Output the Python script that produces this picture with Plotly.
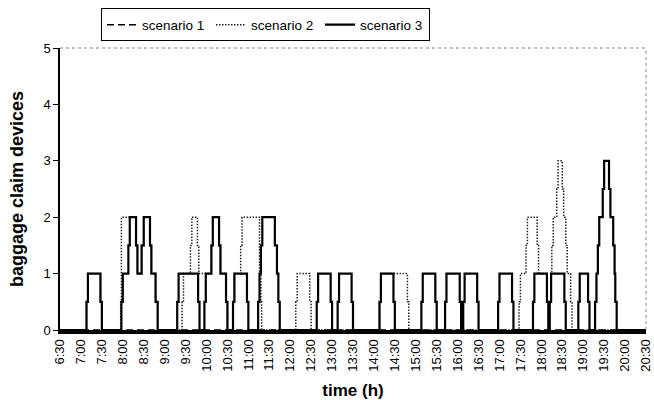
import plotly.graph_objects as go

# ---------------- data ----------------
DAY = "2000-01-01 "

X_TICK_LABELS = ["6:30", "7:00", "7:30", "8:00", "8:30", "9:00", "9:30", "10:00",
                 "10:30", "11:00", "11:30", "12:00", "12:30", "13:00", "13:30",
                 "14:00", "14:30", "15:00", "15:30", "16:00", "16:30", "17:00",
                 "17:30", "18:00", "18:30", "19:00", "19:30", "20:00", "20:30"]

# scenario 1: stays at zero over the whole day
S1_TIMES = ["06:30", "20:30"]
S1_VALUES = [0, 0]

# scenario 2 (dotted) step breakpoints: value holds until next time
S2_TIMES = ["06:30", "07:08", "07:10", "07:28", "07:30",
            "07:57", "07:58", "08:19", "08:21", "08:27", "08:30", "08:39", "08:41", "08:47", "08:50",
            "09:25", "09:27", "09:37", "09:39", "09:47", "09:49",
            "10:07", "10:09", "10:18", "10:20", "10:28", "10:30",
            "10:38", "10:40", "10:49", "10:51", "11:16", "11:18", "11:19",
            "12:08", "12:10", "12:28", "12:30",
            "14:08", "14:10", "14:48", "14:50",
            "17:28", "17:30", "17:38", "17:40", "17:54", "17:56", "18:08", "18:10",
            "18:12", "18:14", "18:15", "18:17", "18:22", "18:24", "18:30", "18:32",
            "18:35", "18:37", "18:42", "18:44", "20:30"]
S2_VALUES = [0, 0.5, 1, 0.5, 0,
             0.5, 2, 1.5, 1, 1.5, 2, 1.5, 1, 0.5, 0,
             0.5, 1, 1.5, 2, 1.5, 1,
             1.5, 2, 1.5, 1, 0.5, 0,
             0.5, 1, 1.5, 2, 1, 0.5, 0,
             0.5, 1, 0.5, 0,
             0.5, 1, 0.5, 0,
             0.5, 1, 1.5, 2, 1.5, 1, 0.5, 0,
             0.5, 1, 1.5, 2, 2.5, 3, 2.5, 2,
             1.5, 1, 0.5, 0, 0]

# scenario 3 (solid) step breakpoints
S3_TIMES = ["06:30", "07:08", "07:10", "07:28", "07:30",
            "07:58", "08:00", "08:08", "08:10", "08:19", "08:21", "08:27", "08:30",
            "08:39", "08:41", "08:47", "08:50",
            "09:18", "09:20", "09:48", "09:50",
            "09:57", "09:59", "10:07", "10:09", "10:18", "10:20", "10:28", "10:30",
            "10:38", "10:40", "10:58", "11:00",
            "11:14", "11:16", "11:18", "11:20", "11:38", "11:41", "11:43", "11:45",
            "12:38", "12:40", "12:58", "13:00",
            "13:08", "13:10", "13:28", "13:30",
            "14:08", "14:10", "14:28", "14:30",
            "15:08", "15:10", "15:28", "15:30",
            "15:42", "15:44", "16:03", "16:05",
            "16:08", "16:10", "16:28", "16:30",
            "16:58", "17:00", "17:18", "17:20",
            "17:48", "17:50", "18:08", "18:10",
            "18:12", "18:14", "18:33", "18:35",
            "18:53", "18:55", "19:07", "19:09",
            "19:17", "19:19", "19:21", "19:23", "19:28", "19:30", "19:37", "19:39",
            "19:43", "19:45", "19:46", "19:48", "20:30"]
S3_VALUES = [0, 0.5, 1, 0.5, 0,
             0.5, 1, 1.5, 2, 1.5, 1, 1.5, 2,
             1.5, 1, 0.5, 0,
             0.5, 1, 0.5, 0,
             0.5, 1, 1.5, 2, 1.5, 1, 0.5, 0,
             0.5, 1, 0.5, 0,
             0.5, 1, 1.5, 2, 1.5, 1, 0.5, 0,
             0.5, 1, 0.5, 0,
             0.5, 1, 0.5, 0,
             0.5, 1, 0.5, 0,
             0.5, 1, 0.5, 0,
             0.5, 1, 0.5, 0,
             0.5, 1, 0.5, 0,
             0.5, 1, 0.5, 0,
             0.5, 1, 0.5, 0,
             0.5, 1, 0.5, 0,
             0.5, 1, 0.5, 0,
             0.5, 1, 1.5, 2, 2.5, 3, 2.5, 2,
             1.5, 1, 0.5, 0, 0]

Y_TICKS = [0, 1, 2, 3, 4, 5]


def stamp(t):
    h, m = t.split(":")
    return DAY + h.zfill(2) + ":" + m


FONT = "Liberation Sans, Arial, sans-serif"

fig = go.Figure()
fig.add_trace(go.Scatter(x=[stamp(t) for t in S1_TIMES], y=S1_VALUES, mode="lines",
                         line=dict(shape="hv", color="#000000", width=1.5, dash="7px,4px"),
                         name="scenario 1"))
fig.add_trace(go.Scatter(x=[stamp(t) for t in S2_TIMES], y=S2_VALUES, mode="lines",
                         line=dict(shape="hv", color="#222222", width=1.5, dash="1.5px,1.5px"),
                         name="scenario 2"))
fig.add_trace(go.Scatter(x=[stamp(t) for t in S3_TIMES], y=S3_VALUES, mode="lines",
                         line=dict(shape="hv", color="#000000", width=2.2),
                         name="scenario 3"))

tickvals = [stamp(t) for t in X_TICK_LABELS]

fig.update_layout(
    width=654, height=400,
    margin=dict(l=60, r=8, t=45, b=70),
    paper_bgcolor="white", plot_bgcolor="white",
    font=dict(family=FONT, size=13, color="#000000"),
    showlegend=True,
    legend=dict(orientation="h", x=(265.5 - 60) / 586, xanchor="center", y=1 + 40 / 285, yanchor="top",
                bordercolor="#000000", borderwidth=1, font=dict(size=13.5),
                entrywidth=64, entrywidthmode="pixels",
                itemwidth=30, tracegroupgap=0, bgcolor="white"),
    xaxis=dict(type="date", range=[stamp("6:30"), stamp("20:30") + ":01"],
               tickmode="array", tickvals=tickvals, ticktext=X_TICK_LABELS,
               tickangle=-90, tickfont=dict(size=13), automargin=False,
               ticklabeloverflow="allow",
               showgrid=False, zeroline=False,
               showline=True, linecolor="#000000", linewidth=4, ticks="",
               title=dict(text="<b>time (h)</b>", font=dict(size=17))),
    yaxis=dict(range=[0, 5], tickvals=Y_TICKS, ticks="outside", ticklen=5,
               tickcolor="#000000", tickfont=dict(size=13), automargin=False,
               showgrid=False, zeroline=False,
               showline=True, linecolor="#000000", linewidth=1.5,
               title=dict(text="<b>baggage claim devices</b>", font=dict(size=18))),
    shapes=[
        dict(type="line", xref="paper", yref="paper", x0=0, x1=1, y0=1, y1=1,
             line=dict(color="#888888", width=1, dash="dot")),
        dict(type="line", xref="paper", yref="paper", x0=1, x1=1, y0=0, y1=1,
             line=dict(color="#888888", width=1, dash="dot")),
    ],
)

# remove the default page margin so the figure sits at the window's top-left corner
fig.write_html("out.html", config={"displayModeBar": False},
               post_script="document.body.style.margin='0';")
